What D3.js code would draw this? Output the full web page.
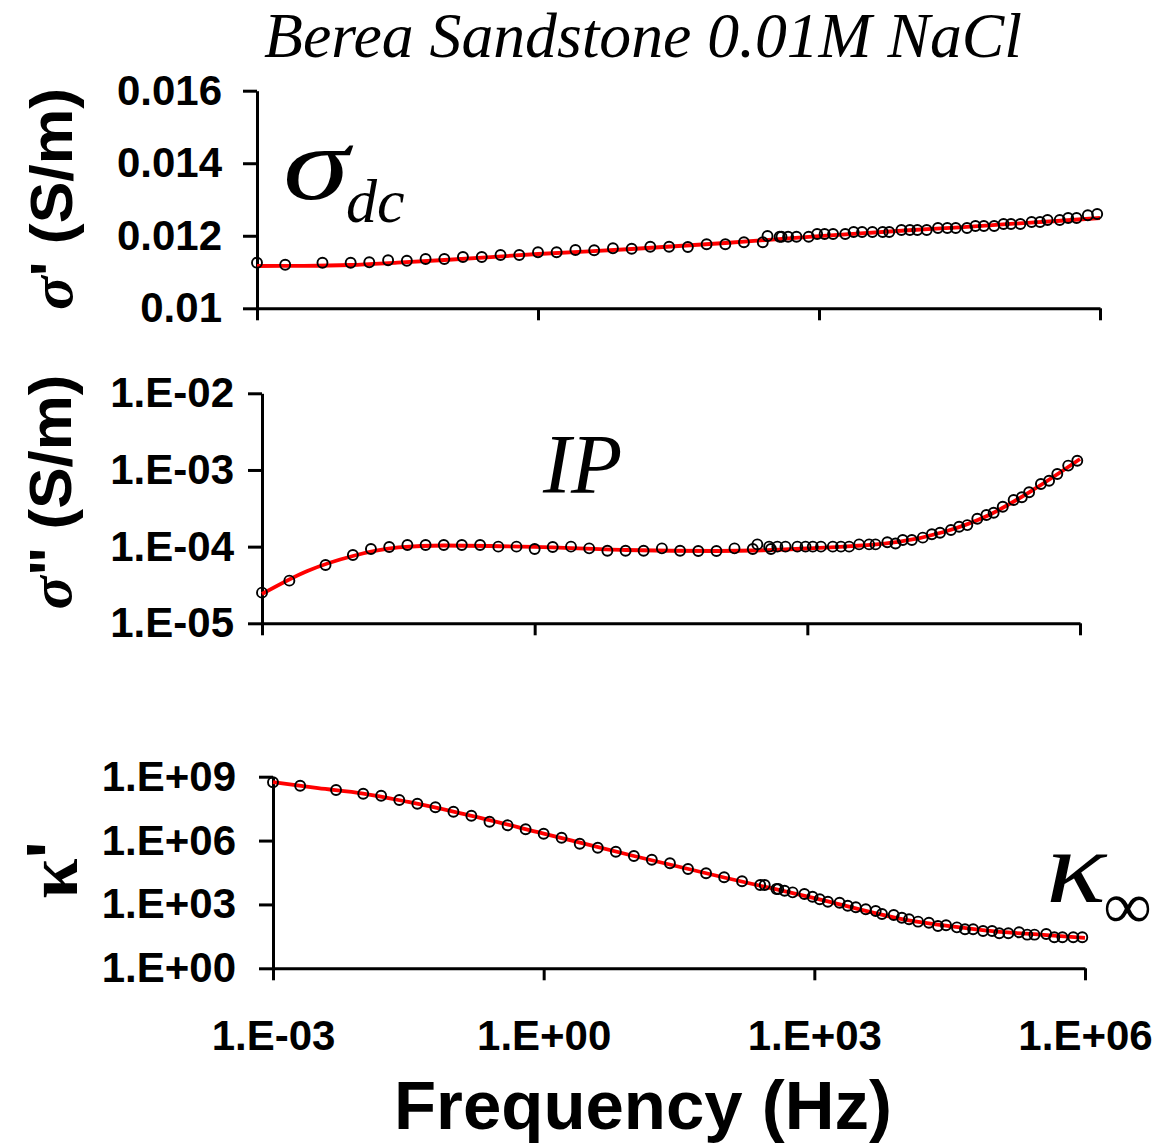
<!DOCTYPE html>
<html><head><meta charset="utf-8">
<script src="https://cdn.jsdelivr.net/npm/d3@7"></script>
<style>body{margin:0;background:#fff} svg{display:block} text{white-space:pre}</style>
</head><body>
<svg id="c" width="1152" height="1143"></svg>
<script>
// ---------- DATA ----------
const titleText = "Berea Sandstone 0.01M NaCl";
const xTitle = "Frequency (Hz)";
const xTickValues = [1e-3, 1, 1e3, 1e6];
const xTickLabels = ["1.E-03", "1.E+00", "1.E+03", "1.E+06"];

const sigRealTicks = [0.01, 0.012, 0.014, 0.016];
const sigRealTickLabels = ["0.01", "0.012", "0.014", "0.016"];
const sigImagTicks = [1e-5, 1e-4, 1e-3, 1e-2];
const sigImagTickLabels = ["1.E-05", "1.E-04", "1.E-03", "1.E-02"];
const kappaTicks = [1, 1e3, 1e6, 1e9];
const kappaTickLabels = ["1.E+00", "1.E+03", "1.E+06", "1.E+09"];

// measured frequencies (Hz): low-frequency sweep and high-frequency sweep
const freqLow = [0.001, 0.002, 0.005, 0.01, 0.0158, 0.0251, 0.0398, 0.0631, 0.1, 0.158, 0.251, 0.398, 0.631,
  1, 1.58, 2.51, 3.98, 6.31, 10, 15.8, 25.1, 39.8, 63.1, 100, 158, 251, 398];
const freqHigh = [282, 380, 468, 575, 776, 955, 1148, 1413, 1905, 2344, 2884, 3715, 4786, 5623, 7586, 9333,
  11220, 14125, 18621, 23442, 28840, 38019, 46774, 57544, 74131, 93325, 112202, 141254, 186209, 229087,
  275423, 371535, 457088, 562341, 741310, 933254];

// sigma' (S/m)
const sigRealLow = [0.011257, 0.011202, 0.011257, 0.011257, 0.011268, 0.011323, 0.011312, 0.011359, 0.011359,
  0.011414, 0.011414, 0.01147, 0.01147, 0.011544, 0.011544, 0.011607, 0.011599, 0.011654, 0.011643, 0.011698,
  0.011698, 0.01169, 0.011765, 0.011765, 0.01182, 0.01182, 0.011974];
const sigRealHigh = [0.011993, 0.011974, 0.011974, 0.011974, 0.011974, 0.012049, 0.012049, 0.012049, 0.012049,
  0.012104, 0.012104, 0.012104, 0.012104, 0.012104, 0.012159, 0.012159, 0.012159, 0.012159, 0.012214, 0.012214,
  0.012214, 0.012214, 0.012269, 0.012269, 0.012269, 0.012324, 0.012324, 0.012324, 0.012379, 0.012379, 0.012435,
  0.012435, 0.01249, 0.01249, 0.012564, 0.0126];

// sigma'' (S/m)
const sigImagLow = [2.51e-5, 3.6e-5, 5.75e-5, 7.78e-5, 9.3e-5, 9.9e-5, 1.05e-4, 1.05e-4, 1.05e-4, 1.05e-4,
  1.05e-4, 1.0e-4, 1.0e-4, 9.3e-5, 9.9e-5, 1.0e-4, 9.5e-5, 8.85e-5, 8.85e-5, 8.85e-5, 9.5e-5, 8.85e-5,
  8.77e-5, 8.77e-5, 9.5e-5, 9.3e-5, 9.3e-5];
const sigImagHigh = [1.07e-4, 1.0e-4, 1.0e-4, 1.0e-4, 1.0e-4, 1.0e-4, 1.0e-4, 1.0e-4, 1.0e-4, 1.0e-4, 1.0e-4,
  1.07e-4, 1.07e-4, 1.07e-4, 1.14e-4, 1.10e-4, 1.22e-4, 1.22e-4, 1.31e-4, 1.45e-4, 1.52e-4, 1.65e-4, 1.82e-4,
  1.91e-4, 2.31e-4, 2.59e-4, 2.77e-4, 3.32e-4, 4.06e-4, 4.40e-4, 5.11e-4, 6.56e-4, 7.24e-4, 8.86e-4,
  1.14e-3, 1.32e-3];

// kappa'
const kappaLow = [5.46e8, 3.78e8, 2.37e8, 1.59e8, 1.28e8, 8.0e7, 5.4e7, 3.65e7, 2.27e7, 1.47e7, 7.7e6, 5.2e6,
  3.38e6, 2.1e6, 1.36e6, 7.1e5, 4.6e5, 3.0e5, 1.88e5, 1.26e5, 8.55e4, 4.6e4, 2.9e4, 1.88e4, 1.22e4, 8.2e3, 5.3e3];
const kappaHigh = [8.2e3, 5.3e3, 4.4e3, 3.7e3, 3.1e3, 2.3e3, 1.74e3, 1.34e3, 1.2e3, 870, 733, 590, 491, 355,
  319, 238, 200, 155, 139, 97, 105, 84, 68, 68, 56.5, 56.5, 44, 44, 49, 38, 38, 41, 28.6, 28.6, 28.6, 28.6];

// model fit curves (red)
const fitFreq = [0.001, 0.00316, 0.01, 0.0316, 0.1, 1, 10, 100, 1000, 10000, 31600, 100000, 316000, 1000000];
const sigRealFit = [0.011166, 0.01117, 0.011194, 0.01126, 0.011332, 0.011497, 0.011635, 0.0118, 0.011993,
  0.012159, 0.01223, 0.01232, 0.0124, 0.01249];
const sigImagFit = [2.41e-5, 4.81e-5, 7.55e-5, 9.75e-5, 1.035e-4, 9.9e-5, 9.04e-5, 8.77e-5, 9.46e-5, 1.15e-4,
  1.55e-4, 2.59e-4, 5.65e-4, 1.39e-3];
const kappaFit = [5.5e8, 2.9e8, 1.62e8, 6.5e7, 2.3e7, 2.14e6, 1.88e5, 1.84e4, 2.0e3, 195, 95, 54, 38, 27];

// ---------- DRAW ----------
const svg = d3.select("#c");
const SANS = "'Liberation Sans', Arial, Helvetica, sans-serif";
const SERIF = "'Liberation Serif', 'Times New Roman', Times, serif";

function zip(f, v) { return f.map((d, i) => ({ f: d, v: v[i] })); }

function panel(cfg) {
  const x = d3.scaleLog().domain([1e-3, 1e6]).range([cfg.left, cfg.right]);
  const y = (cfg.log ? d3.scaleLog() : d3.scaleLinear()).domain(cfg.domain).range([cfg.bottom, cfg.top]);
  const g = svg.append("g");

  const xa = g.append("g").attr("transform", `translate(0,${cfg.bottom})`)
    .call(d3.axisBottom(x).tickValues(xTickValues).tickSize(12).tickSizeOuter(0)
      .tickPadding(cfg.xPad || 3).tickFormat((d, i) => cfg.xLabels ? xTickLabels[i] : ""));
  const ya = g.append("g").attr("transform", `translate(${cfg.left},0)`)
    .call(d3.axisLeft(y).tickValues(cfg.ticks).tickSize(14).tickSizeOuter(0)
      .tickPadding(cfg.yPad).tickFormat((d, i) => cfg.tickLabels[i]));
  [xa, ya].forEach(a => {
    a.selectAll("path,line").attr("stroke", "#000").attr("stroke-width", 3);
    a.selectAll("text").attr("fill", "#000").style("font-family", SANS)
      .style("font-weight", "bold").style("font-size", "42px");
  });

  const line = d3.line().x(d => x(d.f)).y(d => y(d.v)).curve(d3.curveMonotoneX);
  g.append("path").datum(zip(fitFreq, cfg.fit)).attr("d", line)
    .attr("fill", "none").attr("stroke", "#ff0000").attr("stroke-width", 3.8);

  const pts = zip(freqLow, cfg.low).concat(zip(freqHigh, cfg.high));
  g.append("g").selectAll("circle").data(pts).join("circle")
    .attr("cx", d => x(d.f)).attr("cy", d => y(d.v)).attr("r", 5)
    .attr("fill", "none").attr("stroke", "#000").attr("stroke-width", 1.9);
}

panel({ left: 257, right: 1100, top: 90.7, bottom: 308.3, log: false, domain: [0.01, 0.016],
  ticks: sigRealTicks, tickLabels: sigRealTickLabels, yPad: 21,
  low: sigRealLow, high: sigRealHigh, fit: sigRealFit });
panel({ left: 262, right: 1080, top: 393.3, bottom: 623.3, log: true, domain: [1e-5, 1e-2],
  ticks: sigImagTicks, tickLabels: sigImagTickLabels, yPad: 14,
  low: sigImagLow, high: sigImagHigh, fit: sigImagFit });
panel({ left: 273, right: 1085, top: 776.7, bottom: 968.3, log: true, domain: [1, 1e9],
  ticks: kappaTicks, tickLabels: kappaTickLabels, yPad: 23, xLabels: true, xPad: 40,
  low: kappaLow, high: kappaHigh, fit: kappaFit });

// title
svg.append("text").attr("x", 643).attr("y", 57).attr("text-anchor", "middle")
  .style("font-family", SERIF).style("font-style", "italic").style("font-size", "64px")
  .attr("textLength", 758).attr("lengthAdjust", "spacingAndGlyphs").text(titleText);

// x title
svg.append("text").attr("x", 643).attr("y", 1129).attr("text-anchor", "middle")
  .style("font-family", SANS).style("font-weight", "bold").style("font-size", "68px")
  .attr("textLength", 498).attr("lengthAdjust", "spacingAndGlyphs").text(xTitle);

// y titles
function yTitle(xb, yc, size, len, sym, rest) {
  const t = svg.append("text").attr("transform", `translate(${xb},${yc}) rotate(-90)`)
    .attr("text-anchor", "middle").style("font-family", SANS).style("font-weight", "bold")
    .style("font-size", size + "px").attr("textLength", len).attr("lengthAdjust", "spacingAndGlyphs");
  t.append("tspan").style("font-family", SERIF).style("font-style", "italic").text(sym);
  t.append("tspan").text(rest);
}
yTitle(72, 199, 60, 222, "σ", "' (S/m)");
yTitle(71, 492, 60, 235, "σ", "\" (S/m)");
const kt = svg.append("text").attr("transform", "translate(77,870) rotate(-90)")
  .attr("text-anchor", "middle").style("font-weight", "bold").style("font-size", "72px");
kt.append("tspan").style("font-family", SERIF).text("κ");
kt.append("tspan").style("font-family", SANS).text("'");

// annotations
function ann(xp, yp, size, txt, len) {
  const t = svg.append("text").attr("x", xp).attr("y", yp).style("font-family", SERIF)
    .style("font-style", "italic").style("font-size", size + "px").text(txt);
  if (len) t.attr("textLength", len).attr("lengthAdjust", "spacingAndGlyphs");
}
ann(283, 199, 104, "σ", 66);
ann(346, 222, 62, "dc");
ann(543, 493, 84, "IP");
ann(1046, 902, 104, "κ", 60);
ann(1104, 928, 66, "∞");
</script>
</body></html>
